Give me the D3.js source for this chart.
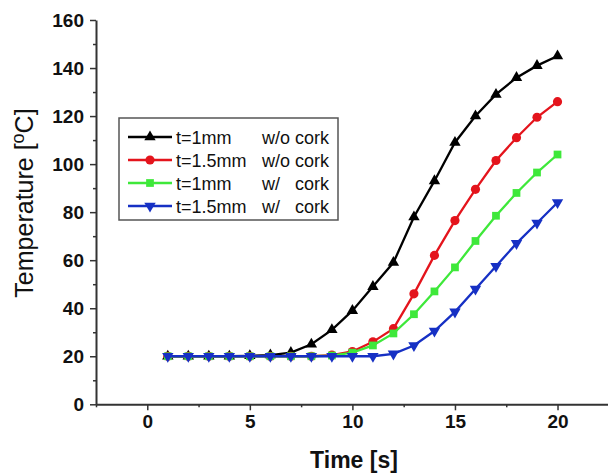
<!DOCTYPE html>
<html>
<head>
<meta charset="utf-8">
<script src="https://cdn.jsdelivr.net/npm/d3@7"></script>
<style>
  body { margin: 0; background: #fff; }
  svg { display: block; font-family: Arial, "Liberation Sans", sans-serif; }
</style>
</head>
<body>
<script>
// data
const time = [1, 2, 3, 4, 5, 6, 7, 8, 9, 10, 11, 12, 13, 14, 15, 16, 17, 18, 19, 20];
const t1NoCork  = [20, 20, 20, 20, 20.2, 20.5, 21.5, 25, 31, 39, 49, 59, 78, 93, 109, 120, 129, 136, 141, 145];
const t15NoCork = [20, 20, 20, 20, 20, 20, 20, 20, 20.5, 22, 26, 31.5, 46, 62, 76.5, 89.5, 101.5, 111, 119.5, 126];
const t1Cork    = [20, 20, 20, 20, 20, 20, 20, 20, 20.3, 21.5, 24.5, 29.5, 37.5, 47, 57, 68, 78.5, 88, 96.5, 104];
const t15Cork   = [20, 20, 20, 20, 20, 20, 20, 20, 20, 20, 20, 21, 24.5, 30.5, 38.5, 48, 57.5, 67, 75.5, 84];

const seriesNames = ["t=1mm", "t=1.5mm", "t=1mm", "t=1.5mm"];
const corkNames = ["w/o", "w/o", "w/", "w/"];
const xTicks = [0, 5, 10, 15, 20];
const yTicks = [0, 20, 40, 60, 80, 100, 120, 140, 160];

const series = [
  {values: t1NoCork,  color: "#000000", symbol: d3.symbolTriangle, size: 56, rot: 0},
  {values: t15NoCork, color: "#e4141c", symbol: d3.symbolCircle,   size: 66, rot: 0},
  {values: t1Cork,    color: "#3ee83a", symbol: d3.symbolSquare,   size: 60, rot: 0},
  {values: t15Cork,   color: "#1630c4", symbol: d3.symbolTriangle, size: 56, rot: 180}
];

const W = 608, H = 475;
const svg = d3.select("body").append("svg")
  .attr("width", W)
  .attr("height", H);

const x = d3.scaleLinear().domain([-2.5, 22.5]).range([96, 608.8]);
const y = d3.scaleLinear().domain([0, 160]).range([404.3, 20]);

// minor ticks first, then major axes
const xMinor = d3.range(-2.5, 23, 5);
const yMinor = d3.range(10, 160, 20);

svg.append("g")
  .attr("transform", "translate(0,404.3)")
  .call(d3.axisBottom(x).tickValues(xMinor).tickSize(3).tickFormat(""))
  .call(g => g.select(".domain").remove())
  .selectAll("line").attr("stroke", "#333").attr("stroke-width", 1.5);

svg.append("g")
  .attr("transform", "translate(96,0)")
  .call(d3.axisLeft(y).tickValues(yMinor).tickSize(3).tickFormat(""))
  .call(g => g.select(".domain").remove())
  .selectAll("line").attr("stroke", "#333").attr("stroke-width", 1.5);

const xAxis = svg.append("g")
  .attr("transform", "translate(0,404.3)")
  .call(d3.axisBottom(x).tickValues(xTicks).tickSize(6).tickSizeOuter(0).tickPadding(4));

const yAxis = svg.append("g")
  .attr("transform", "translate(96,0)")
  .call(d3.axisLeft(y).tickValues(yTicks).tickSize(6).tickSizeOuter(0).tickPadding(6));

[xAxis, yAxis].forEach(g => {
  g.select(".domain").attr("stroke", "#333").attr("stroke-width", 2);
  g.selectAll(".tick line").attr("stroke", "#333").attr("stroke-width", 1.5);
  g.selectAll(".tick text")
    .attr("font-family", "Arial, 'Liberation Sans', sans-serif")
    .attr("font-size", 19)
    .attr("font-weight", "bold")
    .attr("fill", "#111");
});

// axis titles
svg.append("text")
  .attr("x", 354).attr("y", 468)
  .attr("text-anchor", "middle")
  .attr("font-size", 23)
  .attr("font-weight", "bold")
  .attr("fill", "#111")
  .text("Time [s]");

const yt = svg.append("text")
  .attr("transform", "translate(33,203) rotate(-90)")
  .attr("text-anchor", "middle")
  .attr("font-size", 25)
  .attr("fill", "#111");
yt.append("tspan").text("Temperature [");
yt.append("tspan").attr("font-size", 18).attr("dy", -9).text("o");
yt.append("tspan").attr("dy", 9).text("C]");

// lines and markers
const line = d3.line()
  .x((d, i) => x(time[i]))
  .y(d => y(d));

series.forEach(s => {
  svg.append("path")
    .datum(s.values)
    .attr("d", line)
    .attr("fill", "none")
    .attr("stroke", s.color)
    .attr("stroke-width", 2.3);
  svg.append("g").selectAll("path")
    .data(s.values)
    .join("path")
    .attr("d", d3.symbol(s.symbol, s.size))
    .attr("transform", (d, i) => `translate(${x(time[i])},${y(d)}) rotate(${s.rot})`)
    .attr("fill", s.color);
});

// legend
const lg = svg.append("g");
lg.append("rect")
  .attr("x", 119).attr("y", 118)
  .attr("width", 219).attr("height", 102)
  .attr("fill", "#fff")
  .attr("stroke", "#555")
  .attr("stroke-width", 1.5);

series.forEach((s, i) => {
  const cy = 137 + i * 23;
  lg.append("line")
    .attr("x1", 128).attr("x2", 172)
    .attr("y1", cy).attr("y2", cy)
    .attr("stroke", s.color).attr("stroke-width", 2.3);
  lg.append("path")
    .attr("d", d3.symbol(s.symbol, s.size))
    .attr("transform", `translate(150,${cy}) rotate(${s.rot})`)
    .attr("fill", s.color);
  lg.append("text").attr("x", 176).attr("y", cy + 6.5)
    .attr("font-size", 18).attr("fill", "#111").text(seriesNames[i]);
  lg.append("text").attr("x", 262).attr("y", cy + 6.5)
    .attr("font-size", 18).attr("fill", "#111").text(corkNames[i]);
  lg.append("text").attr("x", 295).attr("y", cy + 6.5)
    .attr("font-size", 18).attr("fill", "#111").text("cork");
});
</script>
</body>
</html>
